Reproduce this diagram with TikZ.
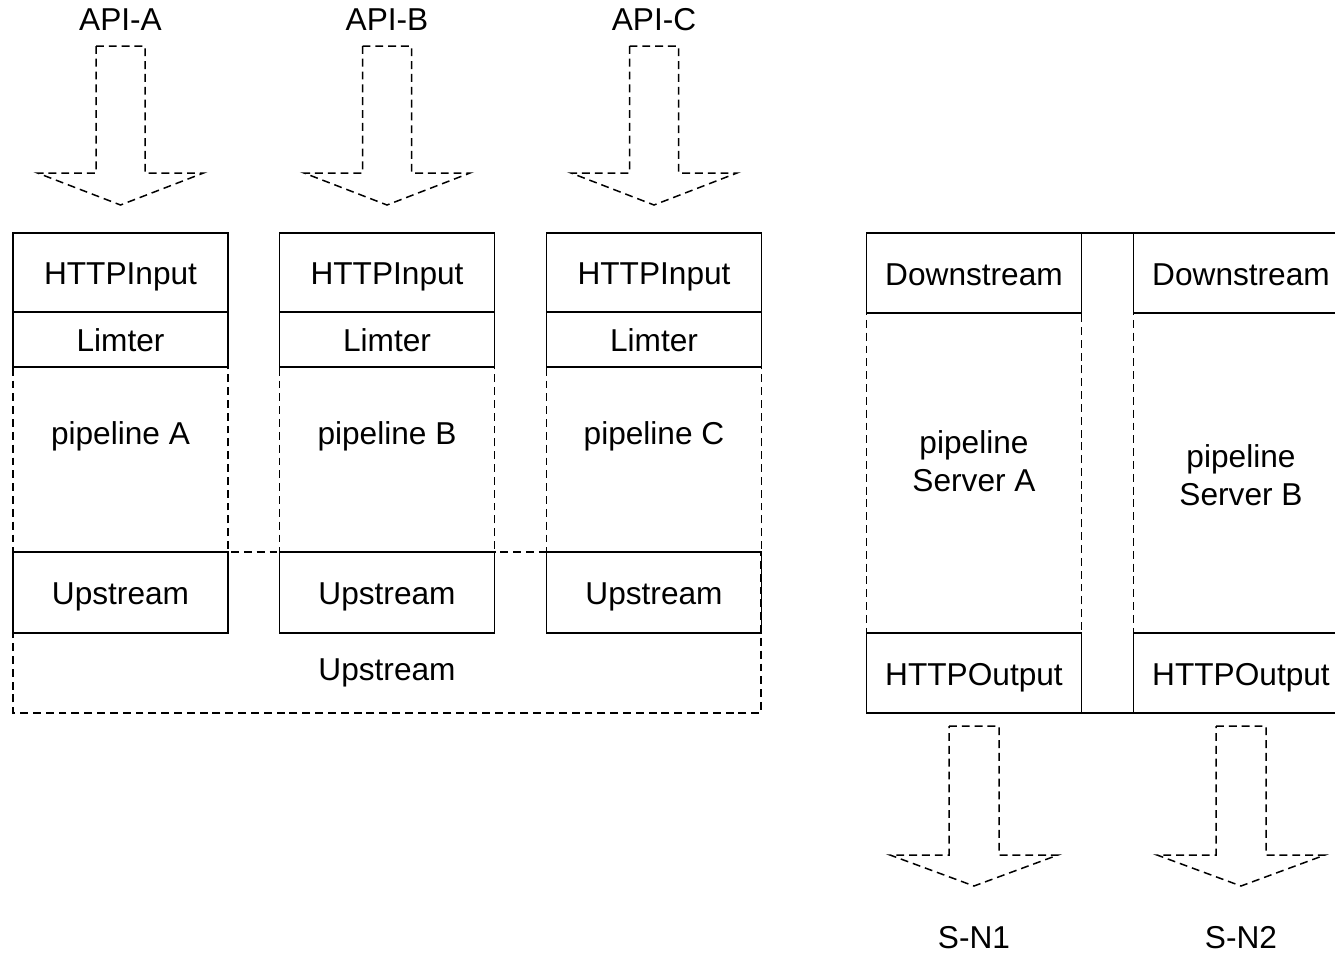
\documentclass[tikz,border=0pt]{standalone}
\usepackage{fontspec}
\setmainfont{Liberation Sans}

\begin{document}
\begin{tikzpicture}
		\tikzstyle{every node}=[font=\fontsize{18}{21.6}\selectfont]
		\tikzstyle{box} = [draw, line width=0.38mm, minimum width=4.3cm, inner sep=0pt, outer sep=0pt, text height=14pt, text depth=0pt]
		\tikzstyle{zone} = [draw, dash pattern=on 4.5pt off 2.8pt, line width=0.3mm, minimum width=4.3cm, inner sep=0pt, outer sep=0pt]
		\tikzstyle{blank} = [align=center, inner sep=0pt, outer sep=0pt]
		\tikzstyle{linea} = [line width=0.38mm]
		\tikzstyle{bigarrow} = [dash pattern=on 4.5pt off 2.8pt, line width=0.3mm]

		\useasboundingbox (0,0) rectangle (26.7cm,-19.08cm);

		\draw (2.41cm,-0.4cm) node[blank](apiA){API-A};
		\draw (7.74cm,-0.4cm) node[blank](apiB){API-B};
		\draw (13.08cm,-0.4cm) node[blank](apiC){API-C};
		\coordinate (inA) at (2.41cm,-0.92cm);
		\coordinate (inB) at (7.74cm,-0.92cm);
		\coordinate (inC) at (13.08cm,-0.92cm);
		\draw[bigarrow] ([xshift=-0.49cm]inA) --++ (0.98cm,0) --++ (0,-2.54cm) --++ (1.17cm,0) --++ (-1.66cm,-0.64cm)
		   --++ (-1.66cm,0.64cm) --++ (1.17cm,0) -- cycle;
		\draw[bigarrow] ([xshift=-0.49cm]inB) --++ (0.98cm,0) --++ (0,-2.54cm) --++ (1.17cm,0) --++ (-1.66cm,-0.64cm)
		   --++ (-1.66cm,0.64cm) --++ (1.17cm,0) -- cycle;
		\draw[bigarrow] ([xshift=-0.49cm]inC) --++ (0.98cm,0) --++ (0,-2.54cm) --++ (1.17cm,0) --++ (-1.66cm,-0.64cm)
		   --++ (-1.66cm,0.64cm) --++ (1.17cm,0) -- cycle;

		\draw[zone] (0.26cm,-11.04cm) --++ (14.96cm,0) --++ (0,-3.22cm) --++ (-14.96cm,0) -- cycle;
		\draw (7.74cm,-13.46cm) node[blank](upAll){Upstream};

		\draw (2.41cm,-9.19cm) node[zone, minimum height=3.7cm](plA){};
		\draw (7.74cm,-9.19cm) node[zone, minimum height=3.7cm](plB){};
		\draw (13.08cm,-9.19cm) node[zone, minimum height=3.7cm](plC){};
		\draw (2.41cm,-8.72cm) node[blank]{pipeline A};
		\draw (7.74cm,-8.72cm) node[blank]{pipeline B};
		\draw (13.08cm,-8.72cm) node[blank]{pipeline C};

		\draw (2.41cm,-5.45cm) node[box, minimum height=1.58cm](inpA){HTTPInput};
		\draw (7.74cm,-5.45cm) node[box, minimum height=1.58cm](inpB){HTTPInput};
		\draw (13.08cm,-5.45cm) node[box, minimum height=1.58cm](inpC){HTTPInput};
		\draw (2.41cm,-6.79cm) node[box, minimum height=1.1cm](limA){Limter};
		\draw (7.74cm,-6.79cm) node[box, minimum height=1.1cm](limB){Limter};
		\draw (13.08cm,-6.79cm) node[box, minimum height=1.1cm](limC){Limter};
		\draw (2.41cm,-11.85cm) node[box, minimum height=1.62cm](upA){Upstream};
		\draw (7.74cm,-11.85cm) node[box, minimum height=1.62cm](upB){Upstream};
		\draw (13.08cm,-11.85cm) node[box, minimum height=1.62cm](upC){Upstream};

		\draw (19.48cm,-9.46cm) node[zone, minimum height=6.4cm](plSA){};
		\draw (24.82cm,-9.46cm) node[zone, minimum height=6.4cm](plSB){};
		\draw (19.48cm,-9.22cm) node[blank]{pipeline\\Server A};
		\draw (24.82cm,-9.5cm) node[blank]{pipeline\\Server B};
		\draw (19.48cm,-5.46cm) node[box, minimum height=1.6cm](dsA){Downstream};
		\draw (24.82cm,-5.46cm) node[box, minimum height=1.6cm](dsB){Downstream};
		\draw (19.48cm,-13.46cm) node[box, minimum height=1.6cm](outA){HTTPOutput};
		\draw (24.82cm,-13.46cm) node[box, minimum height=1.6cm](outB){HTTPOutput};
		\draw[linea] (dsA.north east) -- (dsB.north west);
		\draw[linea] (outA.south east) -- (outB.south west);

		\coordinate (snA) at (19.48cm,-14.52cm);
		\coordinate (snB) at (24.82cm,-14.52cm);
		\draw[bigarrow] ([xshift=-0.5cm]snA) --++ (1cm,0) --++ (0,-2.58cm) --++ (1.18cm,0) --++ (-1.68cm,-0.62cm)
		   --++ (-1.68cm,0.62cm) --++ (1.18cm,0) -- cycle;
		\draw[bigarrow] ([xshift=-0.5cm]snB) --++ (1cm,0) --++ (0,-2.58cm) --++ (1.18cm,0) --++ (-1.68cm,-0.62cm)
		   --++ (-1.68cm,0.62cm) --++ (1.18cm,0) -- cycle;
		\draw (19.48cm,-18.76cm) node[blank](sn1){S-N1};
		\draw (24.82cm,-18.76cm) node[blank](sn2){S-N2};
	\end{tikzpicture}
\end{document}
